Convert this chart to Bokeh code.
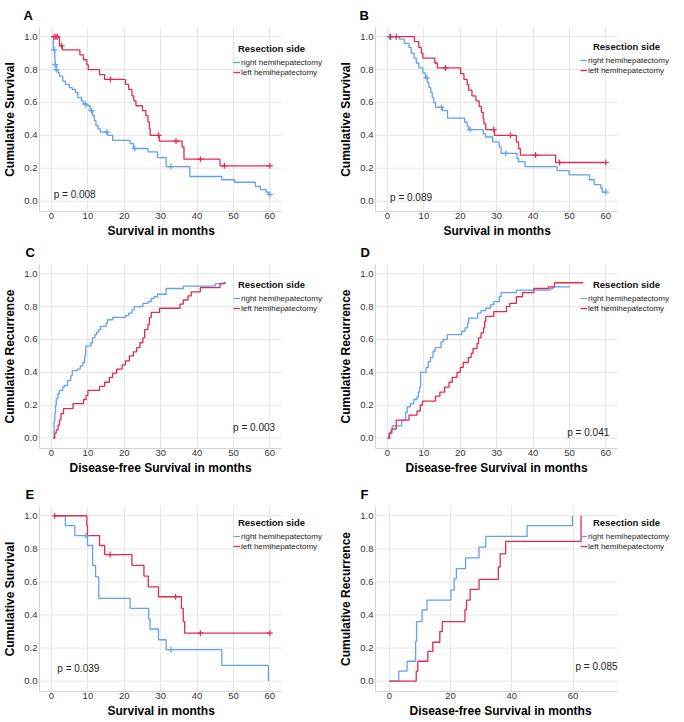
from bokeh.plotting import figure
from bokeh.models import Range1d, FixedTicker, PrintfTickFormatter, Label, Legend, LegendItem, Title
from bokeh.layouts import column, row
from bokeh.embed import file_html
from bokeh.resources import INLINE

FONT = "Liberation Sans"
BLUE = "#62a0f2"
RED = "#e22a4e"
GRID = "#e6e6e6"

series_names = ["right hemihepatectomy", "left hemihepatectomy"]
legend_title = "Resection side"

# ---------------- Panel A: overall survival ----------------
A_right_t = [0.3, 0.5, 0.9, 1.0, 1.3, 1.8, 2.2, 3.1, 3.8, 4.9, 5.7, 6.6, 7.2, 8.2, 8.8, 9.9, 10.6, 11.3, 11.8, 12.2,
             12.8, 13.4, 15.4, 16.8, 21.6, 22.5, 26.5, 29.1, 31.5, 38.0, 46.8, 50.3, 56.0, 57.4, 59.0, 59.6, 60.0]
A_right_s = [1.0, 0.92, 0.86, 0.83, 0.80, 0.78, 0.76, 0.73, 0.71, 0.69, 0.68, 0.66, 0.63, 0.61, 0.59, 0.58, 0.55, 0.52,
             0.49, 0.46, 0.44, 0.42, 0.40, 0.37, 0.35, 0.32, 0.30, 0.265, 0.21, 0.15, 0.13, 0.115, 0.09, 0.07, 0.055, 0.04, 0.04]
A_right_cens = [0.7, 1.0, 1.3, 9.3, 11.0, 15.2, 22.9, 32.8, 60.0]
A_left_t = [0.3, 2.2, 3.0, 7.8, 8.8, 9.7, 10.1, 13.2, 14.6, 20.3, 21.2, 22.1, 22.6, 23.2, 25.0, 25.9, 26.5, 26.9, 27.1,
            29.6, 35.9, 36.4, 46.3, 60.0]
A_left_s = [1.0, 0.945, 0.92, 0.89, 0.86, 0.83, 0.80, 0.77, 0.74, 0.71, 0.68, 0.64, 0.61, 0.58, 0.55, 0.52, 0.48, 0.44,
            0.40, 0.365, 0.33, 0.255, 0.215, 0.215]
A_left_cens = [0.7, 1.2, 1.6, 2.8, 16.2, 29.4, 34.2, 40.9, 47.5, 60.0]

# ---------------- Panel B ----------------
B_right_t = [0.3, 3.3, 4.6, 5.9, 6.5, 7.3, 7.9, 8.6, 9.7, 10.4, 11.0, 11.4, 11.9, 12.3, 12.7, 13.2, 15.1, 16.5, 21.2,
             21.9, 22.3, 26.3, 26.9, 28.9, 30.7, 31.2, 35.6, 36.0, 37.8, 46.6, 49.9, 55.5, 56.8, 58.6, 59.0, 60.0]
B_right_s = [1.0, 0.985, 0.96, 0.935, 0.90, 0.87, 0.84, 0.81, 0.78, 0.75, 0.72, 0.69, 0.66, 0.63, 0.60, 0.57, 0.55,
             0.505, 0.48, 0.455, 0.435, 0.41, 0.39, 0.36, 0.33, 0.29, 0.26, 0.24, 0.21, 0.185, 0.16, 0.13, 0.10, 0.08,
             0.055, 0.055]
B_right_cens = [0.6, 0.9, 10.8, 14.8, 22.7, 32.5, 60.0]
B_left_t = [0.3, 7.4, 8.6, 9.3, 9.7, 13.0, 13.7, 20.1, 21.0, 21.9, 22.3, 23.2, 24.3, 25.2, 25.8, 26.3, 26.5, 27.0,
            29.4, 35.4, 36.0, 36.5, 46.2, 60.0]
B_left_s = [1.0, 0.97, 0.935, 0.90, 0.87, 0.84, 0.81, 0.775, 0.74, 0.71, 0.675, 0.64, 0.61, 0.575, 0.54, 0.50, 0.47,
            0.435, 0.40, 0.36, 0.32, 0.28, 0.235, 0.235]
B_left_cens = [0.8, 2.4, 15.9, 29.2, 33.8, 40.7, 47.3, 60.0]

# ---------------- Panel C: cumulative recurrence ----------------
C_right_t = [0.4, 0.7, 0.9, 1.1, 1.3, 1.8, 2.2, 3.1, 3.5, 4.4, 5.3, 5.7, 7.1, 7.9, 8.6, 9.1, 9.4, 10.8, 11.3, 11.9,
             12.4, 13.0, 13.5, 15.0, 15.4, 16.8, 20.3, 21.2, 22.1, 22.7, 25.1, 26.5, 27.4, 28.2, 29.1, 31.5, 36.2,
             45.0, 47.2, 48.0]
C_right_v = [0.0, 0.10, 0.15, 0.20, 0.24, 0.27, 0.29, 0.31, 0.32, 0.35, 0.38, 0.41, 0.42, 0.44, 0.46, 0.50, 0.56,
             0.58, 0.61, 0.63, 0.645, 0.66, 0.68, 0.70, 0.72, 0.735, 0.745, 0.76, 0.78, 0.80, 0.82, 0.83, 0.85, 0.86,
             0.875, 0.91, 0.925, 0.94, 0.945, 0.945]
C_left_t = [0.4, 0.9, 1.3, 1.8, 2.2, 2.6, 3.3, 5.9, 8.8, 9.5, 10.0, 13.2, 14.6, 15.9, 16.8, 17.9, 19.4, 20.3, 21.4,
            22.5, 23.4, 24.3, 25.1, 25.6, 26.5, 26.9, 27.4, 29.7, 35.3, 36.2, 37.5, 38.4, 40.9, 46.3, 47.6]
C_left_v = [0.0, 0.03, 0.05, 0.08, 0.11, 0.15, 0.18, 0.21, 0.235, 0.26, 0.29, 0.315, 0.34, 0.37, 0.395, 0.42, 0.445,
            0.47, 0.50, 0.525, 0.55, 0.58, 0.61, 0.66, 0.69, 0.735, 0.765, 0.79, 0.815, 0.84, 0.865, 0.89, 0.915,
            0.94, 0.945]

# ---------------- Panel D ----------------
D_right_t = [0.0, 0.35, 0.9, 1.3, 3.9, 5.0, 5.4, 6.3, 7.2, 8.1, 8.5, 8.8, 9.1, 10.6, 11.2, 11.8, 12.5, 13.1, 14.7,
             15.3, 16.4, 20.4, 21.3, 22.0, 22.3, 24.8, 25.7, 27.0, 28.3, 29.2, 30.7, 31.2, 35.4, 44.6, 45.5, 49.9, 50.0]
D_right_v = [0.0, 0.03, 0.05, 0.075, 0.11, 0.155, 0.19, 0.21, 0.235, 0.25, 0.28, 0.31, 0.40, 0.43, 0.465, 0.49,
             0.53, 0.55, 0.585, 0.60, 0.63, 0.65, 0.67, 0.70, 0.73, 0.76, 0.775, 0.79, 0.81, 0.83, 0.86, 0.885, 0.90,
             0.91, 0.92, 0.925, 0.925]
D_left_t = [0.0, 0.6, 1.2, 2.4, 5.9, 8.1, 9.0, 9.6, 13.2, 14.4, 15.7, 16.9, 17.8, 19.1, 20.0, 20.8, 22.2, 23.0,
            23.5, 24.6, 25.0, 25.7, 26.4, 26.7, 27.0, 29.2, 32.7, 33.6, 35.4, 37.1, 40.2, 44.2, 45.9, 53.8]
D_left_v = [0.0, 0.03, 0.055, 0.11, 0.14, 0.165, 0.20, 0.225, 0.255, 0.28, 0.31, 0.34, 0.37, 0.40, 0.43, 0.46,
            0.49, 0.515, 0.545, 0.575, 0.61, 0.64, 0.67, 0.71, 0.74, 0.77, 0.80, 0.82, 0.86, 0.885, 0.91, 0.92,
            0.945, 0.945]

# ---------------- Panel E ----------------
E_right_t = [0.5, 3.8, 6.4, 9.9, 11.3, 12.1, 13.0, 21.6, 26.7, 27.1, 29.4, 31.5, 46.8, 59.6]
E_right_s = [1.0, 0.94, 0.88, 0.82, 0.70, 0.63, 0.50, 0.44, 0.375, 0.315, 0.25, 0.19, 0.095, 0.0]
E_right_cens = [9.5, 32.8]
E_left_t = [0.7, 9.7, 9.9, 13.2, 14.6, 22.1, 25.4, 26.6, 29.4, 35.7, 36.2, 36.6, 60.0]
E_left_s = [1.0, 0.94, 0.88, 0.82, 0.765, 0.70, 0.635, 0.57, 0.51, 0.44, 0.36, 0.29, 0.29]
E_left_cens = [0.9, 16.1, 34.1, 40.9, 60.0]

# ---------------- Panel F ----------------
F_right_t = [0.0, 3.1, 5.8, 8.6, 8.9, 10.7, 12.3, 20.1, 21.2, 21.9, 24.9, 29.3, 31.5, 45.0, 59.8]
F_right_v = [0.0, 0.06, 0.12, 0.24, 0.36, 0.43, 0.49, 0.55, 0.62, 0.68, 0.745, 0.81, 0.875, 0.94, 1.0]
F_left_t = [0.0, 8.8, 9.3, 12.6, 14.2, 16.5, 17.3, 24.7, 25.2, 26.4, 29.3, 35.6, 36.2, 38.0, 62.6]
F_left_v = [0.0, 0.06, 0.12, 0.18, 0.235, 0.30, 0.36, 0.43, 0.49, 0.555, 0.615, 0.69, 0.77, 0.845, 1.0]

p_values = ["p = 0.008", "p = 0.089", "p = 0.003", "p = 0.041", "p = 0.039", "p = 0.085"]
y_ticks = [0.0, 0.2, 0.4, 0.6, 0.8, 1.0]
x_ticks_60 = [0, 10, 20, 30, 40, 50, 60]
x_ticks_F = [0, 20, 40, 60]

# layout (pixels)
BORDER_L = 37
DATA_W = 242        # width of the gridded data area
FRAME_W = 295       # frame incl. the legend overhang on the right
BORDER_R = 334 - BORDER_L - FRAME_W
YR = (-0.063, 1.056)


def step_at(t, s, c):
    val = s[0]
    for ti, si in zip(t, s):
        if ti <= c:
            val = si
    return val


def panel(letter, rt, rs, lt, ls, rc, lc, ylab, xlab, xlab_dx, xticks, xr, pv, pxy,
          fh, btop, bbot, leg_dx, title_dx, title_dy, item_dy, let_dx):
    x_end = xr[0] + (xr[1] - xr[0]) * FRAME_W / DATA_W
    p = figure(frame_width=FRAME_W, frame_height=fh, min_border_left=BORDER_L, min_border_right=BORDER_R,
               min_border_top=btop, min_border_bottom=bbot,
               x_range=Range1d(xr[0], x_end), y_range=Range1d(*YR),
               output_backend="svg", toolbar_location=None, tools="")
    p.outline_line_color = None
    p.background_fill_color = "white"
    p.border_fill_color = "white"
    p.xgrid.grid_line_color = GRID
    p.ygrid.visible = False
    # horizontal grid lines limited to the data area
    p.segment(x0=[xr[0]] * len(y_ticks), x1=[xr[1]] * len(y_ticks), y0=y_ticks, y1=y_ticks,
              line_color=GRID, line_width=1, level="underlay")
    p.xaxis.ticker = FixedTicker(ticks=xticks)
    p.xaxis.bounds = (xr[0], xr[1])
    p.yaxis.ticker = FixedTicker(ticks=y_ticks)
    p.yaxis.formatter = PrintfTickFormatter(format="%.1f")
    for ax in (p.xaxis[0], p.yaxis[0]):
        ax.axis_line_color = "#d2d2d2"
        ax.major_tick_line_color = None
        ax.minor_tick_line_color = None
        ax.major_tick_out = 0
        ax.major_tick_in = 0
        ax.major_label_text_font = FONT
        ax.major_label_text_font_size = "9.5px"
        ax.major_label_text_color = "#333333"
        ax.axis_label_text_font = FONT
        ax.axis_label_text_font_size = "12px"
        ax.axis_label_text_font_style = "bold"
        ax.axis_label_text_color = "#000000"
    p.yaxis.axis_label = ylab
    p.xaxis.major_label_standoff = 1
    p.yaxis.major_label_standoff = 2
    p.yaxis.axis_label_standoff = 4

    # x-axis title, centred under the data area
    p.add_layout(Title(text=xlab, align="left", offset=xlab_dx, text_font=FONT, text_font_size="12px",
                       text_font_style="bold", text_color="#000000", standoff=0), "below")

    # panel letter as the figure title
    p.title.text = letter
    p.title.align = "left"
    p.title.offset = let_dx
    p.title.text_font = FONT
    p.title.text_font_size = "13px"
    p.title.text_font_style = "bold"
    p.title.text_color = "#000000"

    rb = p.step(rt, rs, mode="after", line_color=BLUE, line_width=1.3)
    rr = p.step(lt, ls, mode="after", line_color=RED, line_width=1.3)
    if rc:
        p.scatter(rc, [step_at(rt, rs, c) for c in rc], marker="cross", size=6,
                  line_color=BLUE, line_width=1.2)
    if lc:
        p.scatter(lc, [step_at(lt, ls, c) for c in lc], marker="cross", size=6,
                  line_color=RED, line_width=1.2)

    p.add_layout(Label(x=pxy[0], y=pxy[1], text=pv, text_font=FONT, text_font_size="10px",
                       text_color="#222222", text_baseline="middle", text_align="left"))

    # legend title, centred over the legend items
    p.add_layout(Label(x=xr[0], y=YR[1], x_offset=DATA_W + title_dx, y_offset=-title_dy,
                       text=legend_title, text_font=FONT, text_font_size="9.5px", text_font_style="bold",
                       text_color="#111111", text_baseline="middle", text_align="center"))
    leg_h = 20
    leg = Legend(items=[LegendItem(label=series_names[0], renderers=[rb]),
                        LegendItem(label=series_names[1], renderers=[rr])],
                 location=(DATA_W + leg_dx, fh - item_dy - leg_h),
                 label_text_font=FONT, label_text_font_size="8px", label_text_color="#222222",
                 glyph_width=7, glyph_height=8, label_height=10, label_standoff=1, spacing=0,
                 padding=0, margin=0, border_line_color=None, background_fill_alpha=0)
    p.add_layout(leg)
    return p


xr60 = (-3.3, 63.2)
xrF = (-4.5, 74.5)
SURV = "Cumulative Survival"
REC = "Cumulative Recurrence"
XS = "Survival in months"
XD = "Disease-free Survival in months"

pA = panel("A", A_right_t, A_right_s, A_left_t, A_left_s, A_right_cens, A_left_cens, SURV, XS, 68, x_ticks_60, xr60,
           p_values[0], (0.6, 0.04), 184, 22, 26, -48, -10, 21, 30, -16)
pB = panel("B", B_right_t, B_right_s, B_left_t, B_left_s, B_right_cens, B_left_cens, SURV, XS, 68, x_ticks_60, xr60,
           p_values[1], (0.7, 0.02), 184, 22, 26, -37, 9, 19, 28, -16)
pC = panel("C", C_right_t, C_right_v, C_left_t, C_left_v, [], [], REC, XD, 30, x_ticks_60, xr60,
           p_values[2], (49.9, 0.064), 184, 21, 26, -48, -10, 20, 29, -14)
pD = panel("D", D_right_t, D_right_v, D_left_t, D_left_v, [], [], REC, XD, 30, x_ticks_60, xr60,
           p_values[3], (49.4, 0.035), 184, 21, 26, -37, 9, 20, 29, -15)
pE = panel("E", E_right_t, E_right_s, E_left_t, E_left_s, E_right_cens, E_left_cens, SURV, XS, 68, x_ticks_60, xr60,
           p_values[4], (1.6, 0.075), 185, 32, 26, -48, -10, 16, 25, -14)
pF = panel("F", F_right_t, F_right_v, F_left_t, F_left_v, [], [], REC, XD, 34, x_ticks_F, xrF,
           p_values[5], (60.8, 0.087), 185, 32, 26, -37, 9, 16, 25, -15)

layout = column(row(pA, pB), row(pC, pD), row(pE, pF))
open("out.html", "w").write(file_html(layout, INLINE))
